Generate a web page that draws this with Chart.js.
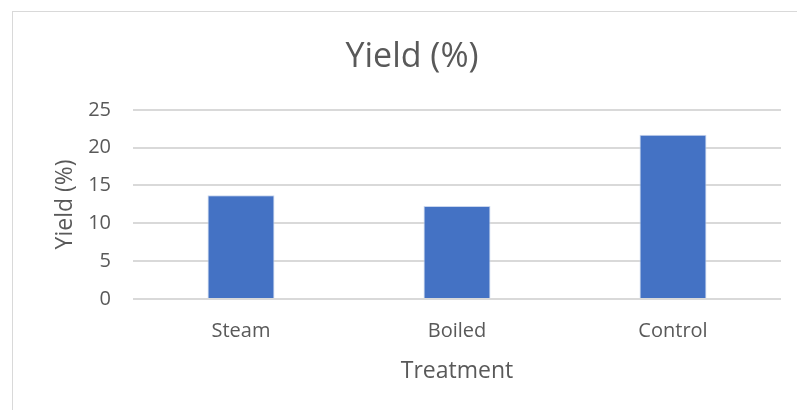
<!DOCTYPE html>
<html>
<head>
<meta charset="utf-8">
<script src="https://cdn.jsdelivr.net/npm/chart.js@4/dist/chart.umd.min.js"></script>
<style>
  html, body { margin: 0; padding: 0; background: #fff; overflow: hidden; }
  #frame { position: absolute; left: 12px; top: 11px; width: 820px; height: 430px; border: 1px solid #d9d9d9; }
  #wrap { position: absolute; left: 0; top: 0; width: 797px; height: 410px; }
</style>
</head>
<body>
<div id="frame"></div>
<div id="wrap"><canvas id="grafico" width="797" height="410"></canvas></div>
<script>
// dados
const tratamentos = ['Steam', 'Boiled', 'Control'];
const rendimento = [13.7, 12.3, 21.7];
const marcasY = [0, 5, 10, 15, 20, 25];

const corTexto = '#595959';
const fonte = '"Open Sans", sans-serif';

window.onload = () => {
    // padding esquerdo maior para o título ficar centrado no quadro original (mais largo que a imagem)
    const contexto = document.getElementById('grafico');
    new Chart(contexto, {
        type: 'bar',
        data: {
            labels: tratamentos,
            datasets: [{
                label: 'Yield (%)',
                data: rendimento,
                backgroundColor: '#4472c4',
                borderColor: '#c9d6ee',
                borderWidth: 1,
                categoryPercentage: 1,
                barPercentage: 0.31
            }]
        },
        options: {
            responsive: false,
            animation: false,
            layout: { padding: { left: 43, right: 16, top: 0, bottom: 0 } },
            plugins: {
                legend: { display: false },
                tooltip: { enabled: false },
                title: {
                    display: true,
                    text: 'Yield (%)',
                    color: corTexto,
                    font: { family: fonte, size: 34, weight: 'normal' },
                    padding: { top: 37, bottom: 32 }
                }
            },
            scales: {
                x: {
                    afterFit: eixo => { eixo.height = 111; },
                    grid: { display: false },
                    border: { display: false },
                    ticks: { color: corTexto, font: { family: fonte, size: 20 }, padding: 12 },
                    title: {
                        display: true,
                        text: 'Treatment',
                        color: corTexto,
                        font: { family: fonte, size: 23 },
                        padding: { top: 0, bottom: 25 }
                    }
                },
                y: {
                    min: 0,
                    max: 25,
                    afterFit: eixo => { eixo.width = 90; },
                    afterBuildTicks: eixo => { eixo.ticks = marcasY.map(v => ({ value: v })); },
                    grid: { color: '#d9d9d9', lineWidth: 2, drawTicks: false },
                    border: { display: false },
                    ticks: { color: corTexto, font: { family: fonte, size: 20 }, padding: 22 },
                    title: {
                        display: true,
                        text: 'Yield (%)',
                        color: corTexto,
                        font: { family: fonte, size: 23 },
                        padding: { top: 9, bottom: 0 }
                    }
                }
            }
        }
    });
}
</script>
</body>
</html>
